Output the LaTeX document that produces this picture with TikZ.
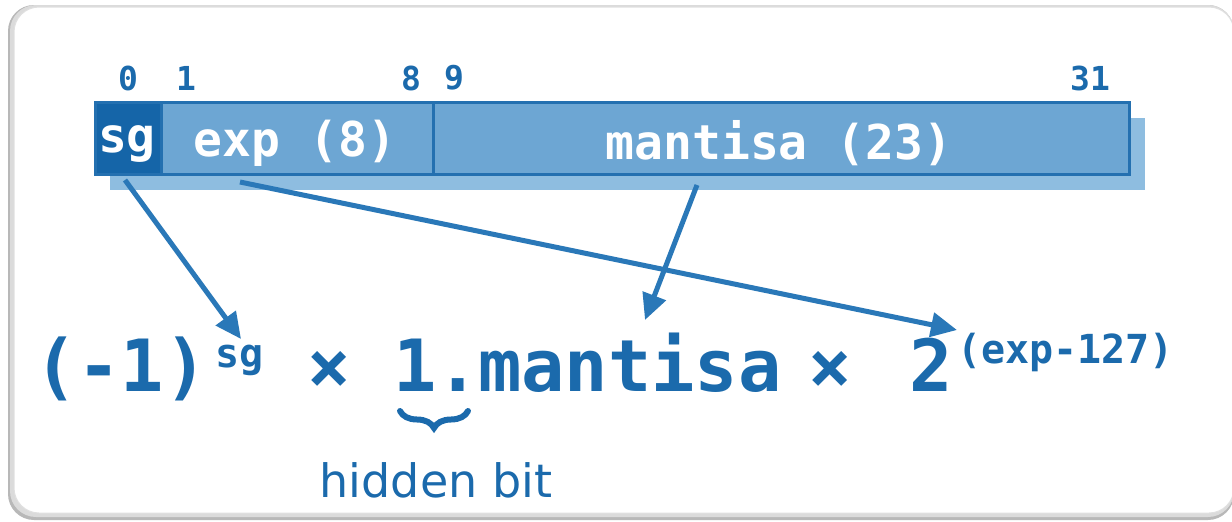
\documentclass[tikz,border=0pt]{standalone}
\usepackage{fontspec}
\setmainfont{DejaVu Sans}
\newfontfamily\monob{DejaVu Sans Mono}
\usetikzlibrary{arrows.meta,decorations.pathreplacing}
\definecolor{txtblue}{HTML}{1B6AAC}
\definecolor{barblue}{HTML}{6DA6D3}
\definecolor{sgblue}{HTML}{1565A8}
\definecolor{edgeblue}{HTML}{2470B0}
\definecolor{shadblue}{HTML}{8EBDE0}
\definecolor{arrblue}{HTML}{2A78B8}
\begin{document}
\begin{tikzpicture}[x=1pt,y=1pt,
  bitnum/.style={text=txtblue,font=\fontsize{33}{33}\selectfont\monob\bfseries,inner sep=0pt},
  field/.style={draw=edgeblue,line width=3pt,fill=barblue,inner sep=0pt,anchor=north west,minimum height=72pt},
  fieldtxt/.style={text=white,font=\fontsize{48}{48}\selectfont\monob\bfseries,inner sep=0pt},
  big/.style={text=txtblue,font=\fontsize{72}{72}\selectfont\monob\bfseries,inner sep=0pt,anchor=base west},
  sup/.style={text=txtblue,font=\fontsize{40}{40}\selectfont\monob\bfseries,inner sep=0pt,anchor=base west},
  conn/.style={draw=arrblue,line width=5pt,-{Triangle[length=26pt,width=24pt]}}
]
\useasboundingbox (0,0) rectangle (1232,-522);
% frame with soft shadow
\fill[black!28,rounded corners=26pt] (8,-5) rectangle (1234,-520);
\fill[black!14,rounded corners=26pt] (10,-5) rectangle (1234,-517);
\fill[white,rounded corners=25pt] (14,-7) rectangle (1234,-513);
\draw[black!12,line width=1pt,rounded corners=25pt] (14,-7) rectangle (1234,-513);
% bar shadow
\fill[shadblue] (110,-118) rectangle (1145,-190);
% fields
\node[field,minimum width=338pt] (exp) at (94,-101) {};
\node[field,minimum width=696pt] (man) at (432,-101) {};
\node[field,fill=sgblue,minimum width=66pt] (sg) at (94,-101) {};
\node[fieldtxt] (sgt) at (127,-144) {sg};
\node[fieldtxt] (expt) at (295,-143) {exp (8)};
\node[fieldtxt] (mant) at (779,-143) {mantisa (23)};
% bit numbers
\node[bitnum] (b0) at (128,-78) {0};
\node[bitnum] (b1) at (186,-78) {1};
\node[bitnum] (b8) at (411,-78) {8};
\node[bitnum] (b9) at (454,-78) {9};
\node[bitnum] (b31) at (1090,-78) {31};
% formula
\node[big] (m1) at (34,-391) {(-1)};
\node[sup] (s1) at (215,-367) {sg};
\node[big] (x1) at (307,-391) {×};
\node[big] (one) at (393,-391) {1.};
\node[big] (mnt) at (478,-391) {mantisa};
\node[big] (x2) at (808,-391) {×};
\node[big] (two) at (909,-391) {2};
\node[sup] (ex) at (957,-363) {(exp-127)};
% brace
\draw[draw=txtblue,line width=6pt,line cap=round,decorate,decoration={brace,mirror,amplitude=17pt,aspect=0.5}]
  (400,-411) -- (468,-411);
\node[text=txtblue,font=\fontsize{46}{46}\selectfont,inner sep=0pt,anchor=base] (hb) at (436,-497) {hidden bit};
% connectors
\coordinate (sgout) at (125,-180);
\coordinate (expout) at (240,-182);
\coordinate (manout) at (697,-185);
\coordinate (sgin) at (241,-339);
\coordinate (manin) at (645,-320);
\coordinate (expin) at (957,-330);
\draw[conn] (sgout) -- (sgin);
\draw[conn] (expout) -- (expin);
\draw[conn] (manout) -- (manin);
\end{tikzpicture}
\end{document}
